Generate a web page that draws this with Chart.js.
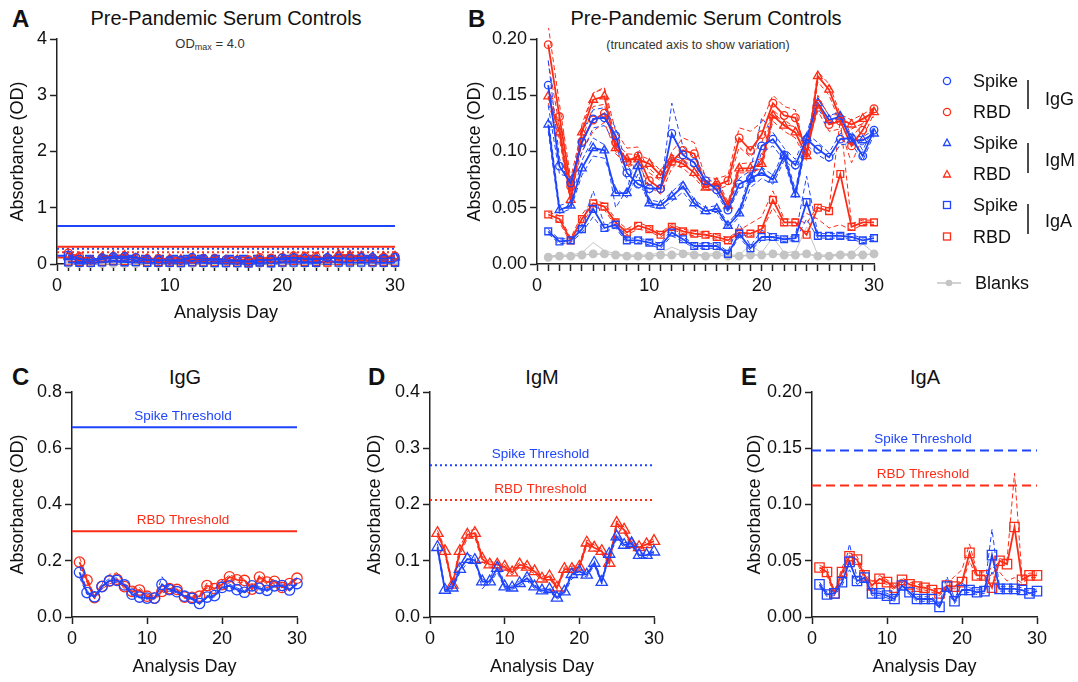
<!DOCTYPE html>
<html>
<head>
<meta charset="utf-8">
<script src="https://cdn.jsdelivr.net/npm/chart.js@4.4.1/dist/chart.umd.min.js"></script>
<style>
  body { margin: 0; background: #fff; width: 1078px; height: 682px; position: relative; overflow: hidden;
         font-family: 'Liberation Sans', Arial, Helvetica, sans-serif; color: #111; }
  canvas { position: absolute; }
  .txt { position: absolute; white-space: nowrap; transform: translate(-50%, -50%); line-height: 1; }
  .letter { position: absolute; font-weight: bold; font-size: 24px; line-height: 1; transform: translateY(-50%); }
  .title { font-size: 20px; }
  sub { font-size: 9px; vertical-align: -2px; }
  #legend { position: absolute; left: 0; top: 0; }
</style>
</head>
<body>
<div class="letter" style="left:12px; top:19px;">A</div>
<div class="txt title" style="left:226px; top:18px;">Pre-Pandemic Serum Controls</div>
<div class="txt" style="left:210px; top:44px; font-size:13px; color:#333;">OD<sub>max</sub> = 4.0</div>

<div class="letter" style="left:468px; top:19px;">B</div>
<div class="txt title" style="left:706px; top:18px;">Pre-Pandemic Serum Controls</div>
<div class="txt" style="left:698px; top:45px; font-size:12.5px; color:#333;">(truncated axis to show variation)</div>

<div class="letter" style="left:12px; top:377px;">C</div>
<div class="txt title" style="left:185px; top:377px;">IgG</div>
<div class="letter" style="left:368px; top:377px;">D</div>
<div class="txt title" style="left:542px; top:377px;">IgM</div>
<div class="letter" style="left:741px; top:377px;">E</div>
<div class="txt title" style="left:925px; top:377px;">IgA</div>

<canvas id="chartA"></canvas>
<canvas id="chartB"></canvas>
<canvas id="chartC"></canvas>
<canvas id="chartD"></canvas>
<canvas id="chartE"></canvas>

<svg id="legend" width="1078" height="320" font-family="'Liberation Sans', Arial, sans-serif" font-size="18" fill="#111">
  <circle cx="947" cy="81" r="3.6" fill="none" stroke="#1f45fc" stroke-width="1.3"/>
  <text x="973" y="81" dominant-baseline="central">Spike</text>
  <circle cx="947" cy="112" r="3.6" fill="none" stroke="#fc2c17" stroke-width="1.3"/>
  <text x="973" y="112" dominant-baseline="central">RBD</text>
  <polygon points="947,139 950.5,145.5 943.5,145.5" fill="none" stroke="#1f45fc" stroke-width="1.3"/>
  <text x="973" y="143" dominant-baseline="central">Spike</text>
  <polygon points="947,170.5 950.5,177 943.5,177" fill="none" stroke="#fc2c17" stroke-width="1.3"/>
  <text x="973" y="174" dominant-baseline="central">RBD</text>
  <rect x="943.5" y="201.5" width="7" height="7" fill="none" stroke="#1f45fc" stroke-width="1.3"/>
  <text x="973" y="205" dominant-baseline="central">Spike</text>
  <rect x="943.5" y="233" width="7" height="7" fill="none" stroke="#fc2c17" stroke-width="1.3"/>
  <text x="973" y="237" dominant-baseline="central">RBD</text>
  <line x1="1028" y1="80" x2="1028" y2="109" stroke="#111" stroke-width="1.5"/>
  <line x1="1028" y1="143" x2="1028" y2="173" stroke="#111" stroke-width="1.5"/>
  <line x1="1028" y1="204" x2="1028" y2="234" stroke="#111" stroke-width="1.5"/>
  <text x="1045" y="99" dominant-baseline="central">IgG</text>
  <text x="1045" y="160" dominant-baseline="central">IgM</text>
  <text x="1045" y="221" dominant-baseline="central">IgA</text>
  <line x1="937" y1="283" x2="961" y2="283" stroke="#c4c4c4" stroke-width="1.5"/>
  <circle cx="949" cy="283" r="3.3" fill="#c4c4c4"/>
  <text x="975" y="283" dominant-baseline="central">Blanks</text>
</svg>

<script>
// ===== Data =====
const days = [1, 2, 3, 4, 5, 6, 7, 8, 9, 10, 11, 12, 13, 14, 15, 16, 17, 18, 19, 20, 21, 22, 23, 24, 25, 26, 27, 28, 29, 30];

// IgG
const iggSpike = [0.159, 0.087, 0.072, 0.108, 0.129, 0.130, 0.114, 0.081, 0.071, 0.067, 0.067, 0.116, 0.097, 0.090, 0.074, 0.066, 0.048, 0.071, 0.076, 0.105, 0.111, 0.097, 0.088, 0.111, 0.102, 0.095, 0.111, 0.112, 0.096, 0.119];
const iggSpikeRep1 = [0.181, 0.094, 0.068, 0.117, 0.137, 0.139, 0.121, 0.088, 0.075, 0.071, 0.064, 0.143, 0.104, 0.095, 0.078, 0.070, 0.051, 0.076, 0.083, 0.130, 0.117, 0.103, 0.093, 0.116, 0.108, 0.099, 0.116, 0.118, 0.101, 0.123];
const iggSpikeRep2 = [0.141, 0.080, 0.077, 0.099, 0.121, 0.123, 0.107, 0.075, 0.068, 0.063, 0.070, 0.095, 0.091, 0.086, 0.070, 0.062, 0.046, 0.067, 0.071, 0.099, 0.105, 0.092, 0.084, 0.106, 0.097, 0.091, 0.106, 0.107, 0.092, 0.115];
const iggRbd = [0.195, 0.131, 0.069, 0.109, 0.128, 0.134, 0.108, 0.091, 0.096, 0.074, 0.067, 0.091, 0.101, 0.098, 0.071, 0.070, 0.074, 0.112, 0.101, 0.115, 0.143, 0.132, 0.130, 0.099, 0.142, 0.124, 0.127, 0.105, 0.119, 0.138];
const iggRbdRep1 = [0.212, 0.142, 0.076, 0.120, 0.152, 0.157, 0.118, 0.103, 0.104, 0.081, 0.074, 0.100, 0.112, 0.108, 0.077, 0.076, 0.079, 0.121, 0.118, 0.126, 0.150, 0.140, 0.137, 0.095, 0.150, 0.131, 0.134, 0.112, 0.125, 0.141];
const iggRbdRep2 = [0.180, 0.122, 0.064, 0.100, 0.118, 0.126, 0.100, 0.086, 0.090, 0.069, 0.062, 0.085, 0.094, 0.091, 0.066, 0.066, 0.070, 0.104, 0.095, 0.108, 0.136, 0.124, 0.122, 0.104, 0.136, 0.118, 0.120, 0.090, 0.112, 0.134];

// IgM
const igmSpike = [0.124, 0.048, 0.052, 0.085, 0.103, 0.101, 0.063, 0.063, 0.087, 0.054, 0.052, 0.060, 0.069, 0.054, 0.047, 0.049, 0.034, 0.045, 0.076, 0.081, 0.075, 0.096, 0.062, 0.112, 0.143, 0.128, 0.131, 0.110, 0.110, 0.116];
const igmSpikeRep1 = [0.130, 0.052, 0.055, 0.092, 0.112, 0.106, 0.050, 0.066, 0.100, 0.057, 0.055, 0.064, 0.074, 0.057, 0.050, 0.052, 0.036, 0.048, 0.082, 0.086, 0.079, 0.100, 0.066, 0.116, 0.148, 0.132, 0.135, 0.114, 0.113, 0.119];
const igmSpikeRep2 = [0.118, 0.045, 0.049, 0.079, 0.096, 0.094, 0.068, 0.059, 0.080, 0.051, 0.049, 0.056, 0.064, 0.051, 0.044, 0.046, 0.031, 0.042, 0.068, 0.076, 0.071, 0.092, 0.059, 0.108, 0.138, 0.124, 0.127, 0.106, 0.106, 0.113];
const igmRbd = [0.149, 0.117, 0.057, 0.117, 0.146, 0.149, 0.103, 0.093, 0.093, 0.089, 0.079, 0.093, 0.089, 0.081, 0.068, 0.072, 0.052, 0.085, 0.085, 0.089, 0.132, 0.123, 0.117, 0.096, 0.167, 0.155, 0.129, 0.124, 0.129, 0.135];
const igmRbdRep1 = [0.154, 0.122, 0.061, 0.124, 0.152, 0.156, 0.108, 0.098, 0.097, 0.093, 0.083, 0.097, 0.093, 0.085, 0.072, 0.076, 0.055, 0.089, 0.090, 0.094, 0.137, 0.128, 0.121, 0.100, 0.171, 0.160, 0.133, 0.128, 0.133, 0.139];
const igmRbdRep2 = [0.143, 0.111, 0.054, 0.110, 0.140, 0.142, 0.098, 0.089, 0.088, 0.085, 0.075, 0.089, 0.085, 0.077, 0.065, 0.068, 0.049, 0.081, 0.081, 0.085, 0.127, 0.118, 0.112, 0.092, 0.162, 0.150, 0.125, 0.120, 0.125, 0.131];

// IgA
const igaSpike = [0.029, 0.020, 0.021, 0.031, 0.049, 0.032, 0.035, 0.021, 0.021, 0.019, 0.016, 0.028, 0.022, 0.016, 0.016, 0.016, 0.009, 0.027, 0.014, 0.024, 0.024, 0.022, 0.023, 0.055, 0.025, 0.025, 0.025, 0.024, 0.021, 0.023];
const igaSpikeRep1 = [0.031, 0.022, 0.023, 0.034, 0.065, 0.035, 0.038, 0.023, 0.023, 0.021, 0.018, 0.031, 0.024, 0.018, 0.018, 0.018, 0.011, 0.036, 0.016, 0.030, 0.026, 0.024, 0.025, 0.078, 0.027, 0.027, 0.027, 0.026, 0.023, 0.025];
const igaSpikeRep2 = [0.027, 0.018, 0.019, 0.028, 0.042, 0.029, 0.032, 0.019, 0.019, 0.017, 0.014, 0.025, 0.020, 0.014, 0.014, 0.014, 0.008, 0.024, 0.012, 0.021, 0.022, 0.020, 0.021, 0.040, 0.023, 0.023, 0.023, 0.022, 0.019, 0.021];
const igaRbd = [0.044, 0.040, 0.021, 0.040, 0.054, 0.051, 0.037, 0.028, 0.034, 0.031, 0.026, 0.033, 0.029, 0.027, 0.026, 0.024, 0.021, 0.028, 0.027, 0.031, 0.057, 0.037, 0.037, 0.026, 0.050, 0.047, 0.080, 0.033, 0.037, 0.037];
const igaRbdRep1 = [0.046, 0.043, 0.023, 0.044, 0.057, 0.054, 0.040, 0.031, 0.037, 0.033, 0.028, 0.035, 0.031, 0.029, 0.028, 0.026, 0.023, 0.030, 0.036, 0.042, 0.065, 0.040, 0.040, 0.036, 0.052, 0.050, 0.128, 0.036, 0.039, 0.039];
const igaRbdRep2 = [0.042, 0.037, 0.019, 0.036, 0.051, 0.048, 0.034, 0.026, 0.031, 0.029, 0.024, 0.031, 0.027, 0.025, 0.024, 0.022, 0.019, 0.026, 0.025, 0.029, 0.050, 0.034, 0.034, 0.045, 0.040, 0.032, 0.035, 0.030, 0.035, 0.035];

// Blanks
const blanks = [0.006, 0.007, 0.007, 0.008, 0.009, 0.009, 0.008, 0.007, 0.007, 0.007, 0.008, 0.008, 0.009, 0.008, 0.007, 0.008, 0.007, 0.007, 0.008, 0.008, 0.009, 0.008, 0.008, 0.009, 0.007, 0.007, 0.008, 0.008, 0.008, 0.009];
const blanksRep = [0.007, 0.008, 0.008, 0.010, 0.019, 0.012, 0.009, 0.008, 0.008, 0.008, 0.010, 0.015, 0.011, 0.009, 0.008, 0.010, 0.008, 0.008, 0.017, 0.010, 0.024, 0.010, 0.011, 0.033, 0.008, 0.008, 0.009, 0.009, 0.018, 0.010];

// Positivity thresholds: IgG, IgM, IgA
const spikeThresholds = [0.675, 0.27, 0.148];
const rbdThresholds = [0.305, 0.208, 0.117];

// ===== Styling =====
const BLUE = '#1f45fc';
const RED = '#fc2c17';
const GRAY = '#c4c4c4';
const AXIS = '#222';
const NONE = 'rgba(0,0,0,0)';
const DOTTED = [2, 3];
const DASHED = [9, 5];

Chart.defaults.font.family = "'Liberation Sans', Arial, Helvetica, sans-serif";
Chart.defaults.color = '#111';

function pts(vals) {
  return vals.map((v, i) => ({ x: days[i], y: v }));
}

function mainSet(vals, color, shape, r) {
  return {
    data: pts(vals), borderColor: color, backgroundColor: NONE, borderWidth: 1.8,
    pointStyle: shape, pointRadius: r, pointBorderColor: color, pointBackgroundColor: NONE,
    pointBorderWidth: 1.3, order: 1, clip: false,
  };
}

function repSet(vals, color) {
  return {
    data: pts(vals), borderColor: color, borderWidth: 1, borderDash: [5, 3],
    pointRadius: 0, order: 2, clip: false,
  };
}

function blankSets() {
  return [
    { data: pts(blanksRep), borderColor: GRAY, borderWidth: 1, pointRadius: 0, order: 5, clip: false },
    { data: pts(blanks), borderColor: GRAY, borderWidth: 1.5, pointStyle: 'circle', pointRadius: 3.7,
      pointBackgroundColor: GRAY, pointBorderColor: GRAY, order: 4, clip: false },
  ];
}

function thresholdSet(value, color, dash) {
  return {
    data: [{ x: 0, y: value }, { x: 30, y: value }], borderColor: color, borderWidth: 2,
    borderDash: dash, pointRadius: 0, order: 3, clip: false,
  };
}

// Text labels sitting just above the threshold lines
function thresholdLabels(items) {
  return {
    id: 'thresholdLabels',
    afterDatasetsDraw(chart) {
      const { ctx, scales: { x, y } } = chart;
      ctx.save();
      ctx.font = "13.5px 'Liberation Sans', Arial, sans-serif";
      ctx.textAlign = 'center';
      ctx.textBaseline = 'middle';
      for (const it of items) {
        ctx.fillStyle = it.color;
        ctx.fillText(it.text, x.getPixelForValue(14.8), y.getPixelForValue(it.value) - 11);
      }
      ctx.restore();
    },
  };
}

// box: canvas rect on the page, plot: wanted plot-area rect on the page
function makeChart(id, box, plot, axis, datasets, plugins) {
  const canvas = document.getElementById(id);
  canvas.width = box.w;
  canvas.height = box.h;
  canvas.style.left = box.x + 'px';
  canvas.style.top = box.y + 'px';
  const yw = plot.l - box.x;
  const xh = box.y + box.h - plot.b;
  return new Chart(canvas, {
    type: 'line',
    data: { datasets },
    plugins: plugins || [],
    options: {
      responsive: false,
      animation: false,
      layout: { padding: { top: plot.t - box.y, right: box.x + box.w - plot.r, left: 0, bottom: 0 } },
      elements: { line: { tension: 0 } },
      plugins: { legend: { display: false }, tooltip: { enabled: false } },
      scales: {
        x: {
          type: 'linear', min: 0, max: 30,
          afterFit: (s) => { s.height = xh; s.paddingLeft = 0; s.paddingRight = 0; },
          ticks: {
            stepSize: axis.xStep, autoSkip: false, maxRotation: 0, padding: 4,
            font: { size: 18 }, color: '#111',
            callback: (v) => (v % 10 === 0 ? v : ''),
          },
          grid: { drawOnChartArea: false, tickLength: 7, tickColor: AXIS, tickWidth: 1.5 },
          border: { color: AXIS, width: 1.5 },
          title: { display: true, text: 'Analysis Day', font: { size: 18 }, color: '#111', padding: { top: 0, bottom: 4 } },
        },
        y: {
          type: 'linear', min: 0, max: axis.yMax,
          afterFit: (s) => { s.width = yw; s.paddingTop = 0; s.paddingBottom = 0; },
          ticks: {
            stepSize: axis.yStep, padding: 3, font: { size: 18 }, color: '#111',
            callback: (v) => v.toFixed(axis.dec),
          },
          grid: { drawOnChartArea: false, tickLength: 7, tickColor: AXIS, tickWidth: 1.5 },
          border: { color: AXIS, width: 1.5 },
          title: { display: true, text: 'Absorbance (OD)', font: { size: 18 }, color: '#111', padding: { top: axis.yTitlePad, bottom: 0 } },
        },
      },
    },
  });
}

function allSeries(rc, rt, rs) {
  return [
    mainSet(iggSpike, BLUE, 'circle', rc), mainSet(iggRbd, RED, 'circle', rc),
    mainSet(igmSpike, BLUE, 'triangle', rt), mainSet(igmRbd, RED, 'triangle', rt),
    mainSet(igaSpike, BLUE, 'rect', rs), mainSet(igaRbd, RED, 'rect', rs),
    repSet(iggSpikeRep1, BLUE), repSet(iggSpikeRep2, BLUE),
    repSet(iggRbdRep1, RED), repSet(iggRbdRep2, RED),
    repSet(igmSpikeRep1, BLUE), repSet(igmSpikeRep2, BLUE),
    repSet(igmRbdRep1, RED), repSet(igmRbdRep2, RED),
    repSet(igaSpikeRep1, BLUE), repSet(igaSpikeRep2, BLUE),
    repSet(igaRbdRep1, RED), repSet(igaRbdRep2, RED),
  ];
}

// ===== Panel A: full OD range =====
makeChart('chartA', { x: 0, y: 28, w: 412, h: 300 }, { l: 57, t: 39, r: 395, b: 264 },
  { xStep: 1, yMax: 4, yStep: 1, dec: 0, yTitlePad: 7 },
  [
    thresholdSet(spikeThresholds[0], BLUE, []), thresholdSet(rbdThresholds[0], RED, []),
    thresholdSet(spikeThresholds[1], BLUE, DOTTED), thresholdSet(rbdThresholds[1], RED, DOTTED),
    thresholdSet(spikeThresholds[2], BLUE, DASHED), thresholdSet(rbdThresholds[2], RED, DASHED),
    ...allSeries(4, 5, 5),
    ...blankSets(),
  ]);

// ===== Panel B: truncated axis =====
makeChart('chartB', { x: 455, y: 28, w: 430, h: 300 }, { l: 537, t: 39, r: 874, b: 264 },
  { xStep: 1, yMax: 0.2, yStep: 0.05, dec: 2, yTitlePad: 9 },
  [...allSeries(3.8, 5, 4.8), ...blankSets()]);

// ===== Panel C: IgG =====
makeChart('chartC', { x: 0, y: 382, w: 320, h: 300 }, { l: 72, t: 392, r: 297, b: 617 },
  { xStep: 10, yMax: 0.8, yStep: 0.2, dec: 1, yTitlePad: 7 },
  [
    mainSet(iggSpike, BLUE, 'circle', 5.2), mainSet(iggRbd, RED, 'circle', 5.2),
    repSet(iggSpikeRep1, BLUE), repSet(iggSpikeRep2, BLUE),
    repSet(iggRbdRep1, RED), repSet(iggRbdRep2, RED),
    thresholdSet(spikeThresholds[0], BLUE, []), thresholdSet(rbdThresholds[0], RED, []),
  ],
  [thresholdLabels([
    { text: 'Spike Threshold', value: spikeThresholds[0], color: BLUE },
    { text: 'RBD Threshold', value: rbdThresholds[0], color: RED },
  ])]);

// ===== Panel D: IgM =====
makeChart('chartD', { x: 357, y: 382, w: 320, h: 300 }, { l: 430, t: 392, r: 654, b: 617 },
  { xStep: 10, yMax: 0.4, yStep: 0.1, dec: 1, yTitlePad: 7 },
  [
    mainSet(igmSpike, BLUE, 'triangle', 6.5), mainSet(igmRbd, RED, 'triangle', 6.5),
    repSet(igmSpikeRep1, BLUE), repSet(igmSpikeRep2, BLUE),
    repSet(igmRbdRep1, RED), repSet(igmRbdRep2, RED),
    thresholdSet(spikeThresholds[1], BLUE, DOTTED), thresholdSet(rbdThresholds[1], RED, DOTTED),
  ],
  [thresholdLabels([
    { text: 'Spike Threshold', value: spikeThresholds[1], color: BLUE },
    { text: 'RBD Threshold', value: rbdThresholds[1], color: RED },
  ])]);

// ===== Panel E: IgA =====
makeChart('chartE', { x: 737, y: 382, w: 341, h: 300 }, { l: 812, t: 392, r: 1037, b: 617 },
  { xStep: 10, yMax: 0.2, yStep: 0.05, dec: 2, yTitlePad: 7 },
  [
    mainSet(igaSpike, BLUE, 'rect', 6.6), mainSet(igaRbd, RED, 'rect', 6.6),
    repSet(igaSpikeRep1, BLUE), repSet(igaSpikeRep2, BLUE),
    repSet(igaRbdRep1, RED), repSet(igaRbdRep2, RED),
    thresholdSet(spikeThresholds[2], BLUE, DASHED), thresholdSet(rbdThresholds[2], RED, DASHED),
  ],
  [thresholdLabels([
    { text: 'Spike Threshold', value: spikeThresholds[2], color: BLUE },
    { text: 'RBD Threshold', value: rbdThresholds[2], color: RED },
  ])]);
</script>
</body>
</html>
